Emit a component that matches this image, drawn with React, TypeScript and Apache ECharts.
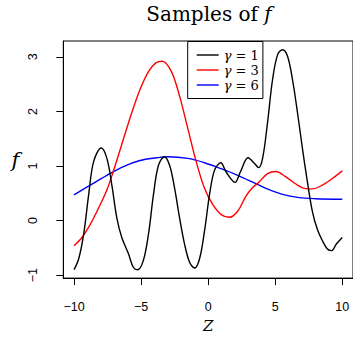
import React, { useEffect, useRef } from "react";
import * as echarts from "echarts";

const xTicks = [-10, -5, 0, 5, 10];
const yTicks = [-1, 0, 1, 2, 3];

const seriesNames = ["γ = 1", "γ = 3", "γ = 6"];

const g1X = [-10.0, -9.65, -9.28, -8.91, -8.54, -7.97, -7.55, -7.18, -6.81, -6.44, -5.94, -5.57, -5.25, -4.83, -4.45, -4.08, -3.71, -3.27, -2.87, -2.5, -2.13, -1.76, -1.39, -1.01, -0.64, -0.27, 0.1, 0.47, 0.94, 1.34, 2.01, 2.4, 2.98, 3.44, 3.76, 4.06, 4.43, 4.8, 5.18, 5.55, 5.92, 6.29, 6.66, 7.03, 7.4, 7.77, 8.14, 8.52, 8.89, 9.21, 9.56, 10.0];
const g1Y = [-0.9, -0.7, -0.25, 0.47, 1.08, 1.33, 1.14, 0.65, 0.05, -0.31, -0.61, -0.86, -0.9, -0.73, -0.25, 0.47, 1.01, 1.17, 1.01, 0.59, 0.05, -0.43, -0.76, -0.87, -0.7, -0.19, 0.47, 0.92, 1.06, 0.89, 0.7, 0.89, 1.15, 1.05, 0.97, 1.14, 1.8, 2.58, 3.04, 3.13, 3.01, 2.58, 1.98, 1.32, 0.71, 0.17, -0.16, -0.37, -0.52, -0.55, -0.43, -0.31];

const g3X = [-10.0, -9.41, -8.79, -8.17, -7.55, -6.93, -6.31, -5.69, -5.08, -4.45, -3.9, -3.42, -2.74, -2.13, -1.51, -0.89, -0.27, 0.35, 0.97, 1.59, 2.2, 2.82, 3.3, 3.77, 4.43, 5.05, 5.8, 6.54, 7.16, 7.77, 8.52, 9.26, 10.0];
const g3Y = [-0.46, -0.31, -0.07, 0.23, 0.56, 1.01, 1.5, 1.98, 2.4, 2.73, 2.89, 2.92, 2.73, 2.28, 1.68, 1.08, 0.59, 0.29, 0.11, 0.06, 0.17, 0.45, 0.6, 0.7, 0.86, 0.9, 0.8, 0.67, 0.59, 0.58, 0.65, 0.77, 0.91];

const g6X = [-10.0, -8.79, -7.55, -6.31, -5.08, -3.84, -3.0, -1.51, -0.27, 0.97, 2.2, 3.44, 4.31, 5.54, 6.78, 8.02, 10.0];
const g6Y = [0.47, 0.65, 0.83, 0.99, 1.1, 1.15, 1.17, 1.14, 1.06, 0.95, 0.83, 0.69, 0.59, 0.48, 0.42, 0.4, 0.39];

const colors = ["#000000", "#ff0000", "#0000ff"];

function pairs(xs: number[], ys: number[]) {
  return xs.map((x, i) => [x, ys[i]]);
}

export default function App() {
  const ref = useRef<HTMLDivElement>(null);
  useEffect(() => {
    if (!ref.current) return;
    const chart = echarts.init(ref.current, null, { renderer: "svg" });
    const tickFont = { fontFamily: "Liberation Sans", fontSize: 12.5, color: "#000" };
    const seriesData = [pairs(g1X, g1Y), pairs(g3X, g3Y), pairs(g6X, g6Y)];
    chart.setOption({
      animation: false,
      backgroundColor: "#ffffff",
      grid: {
        left: 63.3,
        top: 41,
        width: 290.8,
        height: 240,
        show: true,
        borderColor: "#000",
        borderWidth: 1,
        containLabel: false,
      },
      xAxis: {
        type: "value",
        min: -10.8,
        max: 10.8,
        name: "Z",
        nameLocation: "middle",
        nameGap: 38,
        nameTextStyle: { fontFamily: "DejaVu Serif", fontStyle: "italic", fontSize: 15, color: "#000" },
        axisLine: { show: true, onZero: false, lineStyle: { color: "#000", width: 1 } },
        axisTick: { show: true, inside: false, length: 7, customValues: xTicks, lineStyle: { color: "#000" } },
        axisLabel: {
          ...tickFont,
          margin: 22,
          customValues: xTicks,
          formatter: (v: number) => String(v).replace("-", "\u2212"),
        },
        splitLine: { show: false },
      },
      yAxis: {
        type: "value",
        min: -1.054,
        max: 3.29,
        name: "f",
        nameLocation: "middle",
        nameRotate: 0,
        nameGap: 44,
        nameTextStyle: { fontFamily: "DejaVu Serif", fontStyle: "italic", fontSize: 21, color: "#000" },
        axisLine: { show: true, onZero: false, lineStyle: { color: "#000", width: 1 } },
        axisTick: { show: true, inside: false, length: 7, customValues: yTicks, lineStyle: { color: "#000" } },
        axisLabel: {
          ...tickFont,
          margin: 24,
          rotate: 90,
          customValues: yTicks,
          formatter: (v: number) => String(v).replace("-", "\u2212"),
        },
        splitLine: { show: false },
      },
      legend: {
        show: true,
        orient: "vertical",
        left: 187.7,
        top: 41.5,
        padding: [7, 4, 7, 9],
        itemGap: 2,
        itemWidth: 22,
        itemHeight: 1.4,
        icon: "rect",
        borderColor: "#000",
        borderWidth: 1,
        backgroundColor: "#fff",
        data: seriesNames,
        formatter: (name: string) => "{g|γ} = " + name.split("= ")[1],
        textStyle: {
          fontFamily: "DejaVu Serif",
          fontSize: 13,
          lineHeight: 13,
          color: "#000",
          rich: {
            g: { fontFamily: "DejaVu Serif", fontStyle: "italic", fontSize: 13, lineHeight: 13, color: "#000" },
          },
        },
      },
      graphic: [
        {
          type: "text",
          x: 209,
          y: 14.1,
          style: {
            text: "{a|Samples of }{b|f}",
            align: "center",
            verticalAlign: "middle",
            rich: {
              a: { fontFamily: "DejaVu Serif", fontSize: 20, fill: "#000" },
              b: { fontFamily: "DejaVu Serif", fontStyle: "italic", fontSize: 20, fill: "#000" },
            },
          },
        },
      ],
      series: seriesNames.map((name, i) => ({
        name,
        type: "line",
        data: seriesData[i],
        smooth: 0.35,
        symbol: "none",
        color: colors[i],
        lineStyle: { color: colors[i], width: 1.4 },
        z: 3 - i,
      })),
    });
    return () => chart.dispose();
  }, []);
  return (
    <div
      ref={ref}
      style={{ position: "fixed", left: 0, top: 0, width: 353, height: 338, background: "#fff" }}
    />
  );
}
